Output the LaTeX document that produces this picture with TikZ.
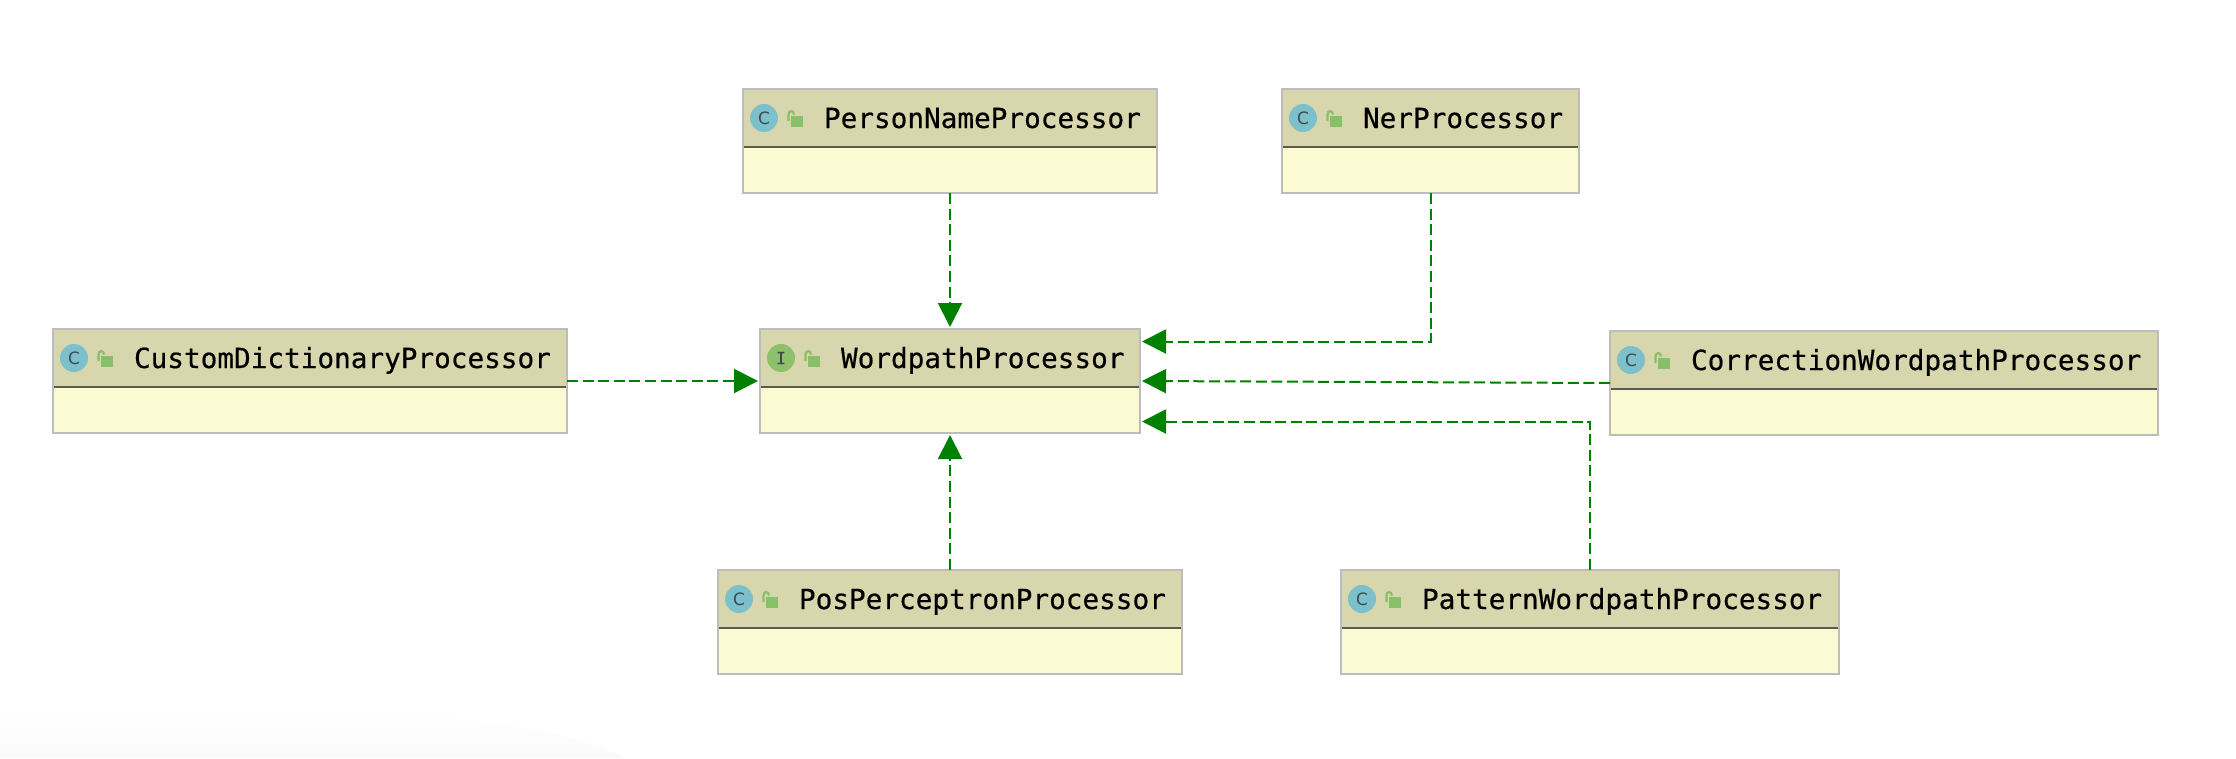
\documentclass[tikz,border=0pt]{standalone}
\usepackage{fontspec}
\setmonofont[RawFeature={embolden=0.5}]{DejaVu Sans Mono}
\setsansfont{DejaVu Sans}
\usetikzlibrary{arrows.meta,calc}
\definecolor{hdr}{HTML}{D8D6AC}
\definecolor{bdy}{HTML}{FCFAD2}
\definecolor{edge}{HTML}{BDBDBD}
\definecolor{divl}{HTML}{5A5A50}
\definecolor{cicon}{HTML}{7CC0CC}
\definecolor{iicon}{HTML}{8EC06C}
\definecolor{lockc}{HTML}{88C069}
\definecolor{letterc}{HTML}{3E4A50}
\definecolor{arrowc}{HTML}{008000}
\definecolor{glow}{HTML}{FAFAFA}
\tikzset{
  classbox/.style={draw=edge,fill=bdy,line width=2pt,outer sep=0pt,inner sep=0pt,rectangle,anchor=north west,minimum height=104pt},
  classname/.style={anchor=base west,inner sep=0pt,outer sep=0pt,font=\ttfamily\fontsize{27.7pt}{30pt}\selectfont,text=black},
  kindicon/.style={circle,minimum size=28pt,inner sep=0pt,outer sep=0pt,text=letterc,font=\sffamily\fontsize{17pt}{18pt}\selectfont},
  realize/.style={draw=arrowc,line width=2pt,dash pattern=on 11pt off 4.6pt,-{Triangle[length=24pt,width=24pt,fill=arrowc]}},
}
\newcommand{\umlclass}[7]{%
  \node[classbox,minimum width=#4pt] (#1) at (#2,#3) {};
  \fill[hdr] ($(#1.north west)+(1,1)$) rectangle ($(#1.north east)+(-1,58)$);
  \draw[divl,line width=2pt] ($(#1.north west)+(1,58)$) -- ($(#1.north east)+(-1,58)$);
  \node[kindicon,fill=#6] (#1icon) at ($(#1.north west)+(21,29)$) {#5};
  \fill[lockc] ($(#1.north west)+(47.5,27)$) rectangle ($(#1.north west)+(59.5,37.5)$);
  \draw[lockc,line width=2.2pt] ($(#1.north west)+(45.5,32)$) -- ($(#1.north west)+(45.5,25.5)$)
     .. controls ($(#1.north west)+(45.5,21)$) and ($(#1.north west)+(51,21)$) .. ($(#1.north west)+(51,25.5)$);
  \node[classname] (#1text) at ($(#1.north west)+(81,39)$) {#7};
}
\begin{document}
\begin{tikzpicture}[x=1pt,y=-1pt]
\useasboundingbox (0,0) rectangle (2236,758);
\shade[top color=white,bottom color=glow,draw=none] (0,712) -- (350,712) .. controls (480,712) and (580,735) .. (625,758) -- (0,758) -- cycle;
\umlclass{person}{743}{89}{414}{C}{cicon}{PersonNameProcessor}
\umlclass{ner}{1282}{89}{297}{C}{cicon}{NerProcessor}
\umlclass{word}{760}{329}{380}{\ttfamily I}{iicon}{WordpathProcessor}
\umlclass{custom}{53}{329}{514}{C}{cicon}{CustomDictionaryProcessor}
\umlclass{correct}{1610}{331}{548}{C}{cicon}{CorrectionWordpathProcessor}
\umlclass{pos}{718}{570}{464}{C}{cicon}{PosPerceptronProcessor}
\umlclass{pattern}{1341}{570}{498}{C}{cicon}{PatternWordpathProcessor}
\draw[realize,shorten >=2pt] (person.south) -- (word.north);
\draw[realize,shorten >=2pt] (pos.north) -- (word.south);
\draw[realize,shorten >=2pt] (custom.east) -- (word.west);
\draw[realize,shorten >=2pt] (correct.west) -- (word.east);
\draw[realize,shorten >=2pt] (ner.south) |- ($(word.east)+(0,-39.5)$);
\draw[realize,shorten >=2pt] (pattern.north) |- ($(word.east)+(0,40.5)$);
\end{tikzpicture}
\end{document}
